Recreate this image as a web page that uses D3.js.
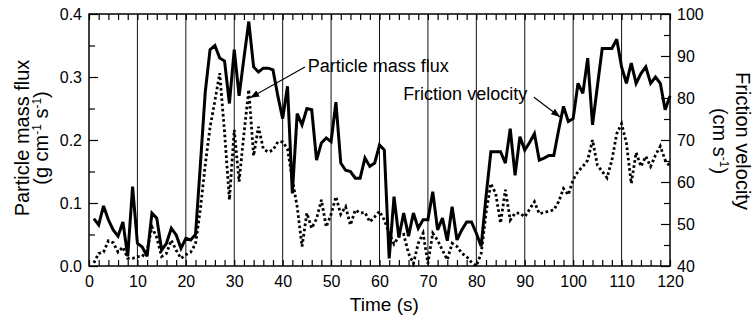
<!DOCTYPE html>
<html>
<head>
<meta charset="utf-8">
<script src="https://cdn.jsdelivr.net/npm/d3@7"></script>
<style>
  body { margin: 0; background: #fff; }
  svg { display: block; font-family: "Liberation Sans", Arial, Helvetica, sans-serif; }
</style>
</head>
<body>
<div id="chart"></div>
<script>
// sample times (s)
const timeSec = [1,2,3,4,5,6,7,8,9,10,11,12,13,14,15,16,17,18,19,20,
  21,22,23,24,25,26,27,28,29,30,31,32,33,34,35,36,37,38,39,40,
  41,42,43,44,45,46,47,48,49,50,51,52,53,54,55,56,57,58,59,60,
  61,62,63,64,65,66,67,68,69,70,71,72,73,74,75,76,77,78,79,80,
  81,82,83,84,85,86,87,88,89,90,91,92,93,94,95,96,97,98,99,100,
  101,102,103,104,105,106,107,108,109,110,111,112,113,114,115,116,117,118,119,120];

// friction velocity (cm s-1), right axis, solid line
const frictionVelocity = [51.3,49.8,54.3,51.0,48.6,47.1,50.5,42.3,58.9,45.4,
  44.5,42.3,52.6,51.4,43.8,45.4,49.0,47.4,44.2,46.6,
  46.2,47.5,64.0,81.3,91.5,92.5,89.5,88.8,78.7,91.5,
  80.5,89.5,98.2,87.4,86.2,87.1,87.1,86.7,80.5,75.1,
  82.8,57.3,76.3,73.6,77.5,77.2,65.2,69.3,70.5,69.6,
  79.0,64.5,62.8,62.5,60.9,60.9,65.7,63.7,64.5,68.8,
  67.6,41.8,56.5,46.8,52.6,47.1,52.6,49.0,51.0,51.0,
  57.7,48.6,51.4,46.0,54.1,46.2,48.6,50.5,50.5,47.8,
  44.7,56.5,67.2,67.2,67.2,64.5,72.7,61.6,70.8,67.6,
  69.4,71.5,65.2,65.7,66.3,66.3,72.4,78.0,74.4,75.1,
  83.5,81.1,89.5,73.6,82.8,91.8,91.8,91.8,94.0,87.4,
  83.5,88.3,83.5,85.8,87.4,83.5,85.0,83.5,77.2,80.5];

// particle mass flux (g cm-1 s-1), left axis, dotted line
const massFlux = [0.005,0.020,0.022,0.040,0.037,0.022,0.030,0.012,0.012,0.015,
  0.015,0.025,0.062,0.045,0.015,0.020,0.041,0.025,0.012,0.018,
  0.022,0.035,0.090,0.160,0.220,0.262,0.306,0.212,0.105,0.216,
  0.134,0.210,0.280,0.175,0.221,0.186,0.181,0.184,0.197,0.197,
  0.186,0.137,0.094,0.031,0.084,0.060,0.075,0.105,0.062,0.082,
  0.110,0.082,0.094,0.065,0.089,0.084,0.085,0.070,0.078,0.087,
  0.073,0.052,0.035,0.047,0.050,0.020,0.004,0.036,0.052,0.004,
  0.052,0.041,0.025,0.010,0.036,0.031,0.020,0.015,0.006,0.000,
  0.020,0.084,0.131,0.115,0.068,0.121,0.073,0.084,0.084,0.078,
  0.090,0.102,0.083,0.085,0.087,0.089,0.102,0.123,0.113,0.137,
  0.150,0.158,0.168,0.200,0.160,0.150,0.140,0.168,0.210,0.226,
  0.195,0.131,0.180,0.158,0.174,0.158,0.176,0.190,0.168,0.158];

const timeLabels = [0,10,20,30,40,50,60,70,80,90,100,110,120];
const gridTimes = [10,20,30,40,50,60,70,80,90,100,110];
const fluxLabels = [0,0.1,0.2,0.3,0.4];
const fluxMinor = [0.05,0.15,0.25,0.35];
const velocityLabels = [40,50,60,70,80,90,100];
const velocityMinor = [45,55,65,75,85,95];

// callouts, placed in data units
const fluxNote = {text: 'Particle mass flux', t: 45.2, f: 0.308, from: [44.6, 0.316], to: [33.3, 0.267]};
const velocityNote = {text: 'Friction velocity', t: 90.5, v: 79.5, from: [91.9, 80.2], to: [97.3, 75.5]};

const width = 754, height = 322;
const margin = {top: 14, right: 84, bottom: 56, left: 89};
const w = width - margin.left - margin.right;
const h = height - margin.top - margin.bottom;

const svg = d3.select('#chart').append('svg')
  .attr('width', width)
  .attr('height', height);

svg.append('defs').append('marker')
  .attr('id', 'arrow')
  .attr('markerUnits', 'userSpaceOnUse')
  .attr('markerWidth', 10).attr('markerHeight', 8)
  .attr('refX', 9).attr('refY', 3.5)
  .attr('orient', 'auto')
  .append('path')
  .attr('d', 'M0,0 L9,3.5 L0,7 Z')
  .attr('fill', '#000');

const g = svg.append('g')
  .attr('transform', 'translate(' + margin.left + ',' + margin.top + ')');

const x = d3.scaleLinear().domain([0, 120]).range([0, w]);
const yFlux = d3.scaleLinear().domain([0, 0.4]).range([h, 0]);
const yVel = d3.scaleLinear().domain([40, 100]).range([h, 0]);

// vertical lines every 10 s
g.selectAll('.grid')
  .data(gridTimes)
  .enter().append('line')
  .attr('class', 'grid')
  .attr('x1', d => x(d)).attr('x2', d => x(d))
  .attr('y1', 0).attr('y2', h)
  .attr('stroke', '#111')
  .attr('stroke-width', 1);

function styleAxis(sel, size) {
  sel.select('.domain').remove();
  sel.selectAll('line').attr('stroke', '#000').attr('stroke-width', 1.2);
  sel.selectAll('text')
    .attr('fill', '#000')
    .style('font-size', size + 'px')
    .style('font-family', '"Liberation Sans", Arial, sans-serif');
}

// bottom: minor ticks every 2 s, labels every 10 s
g.append('g')
  .attr('transform', 'translate(0,' + h + ')')
  .call(d3.axisBottom(x).tickValues(d3.range(0, 121, 2)).tickSize(-6).tickSizeOuter(0).tickFormat(''))
  .call(styleAxis, 16);
g.append('g')
  .attr('transform', 'translate(0,' + h + ')')
  .call(d3.axisBottom(x).tickValues(timeLabels).tickSize(0).tickPadding(10).tickFormat(d3.format('d')))
  .call(styleAxis, 16);

// top: ticks only
g.append('g')
  .call(d3.axisTop(x).tickValues(d3.range(0, 121, 2)).tickSize(-6).tickSizeOuter(0).tickFormat(''))
  .call(styleAxis, 16);

// left axis
g.append('g')
  .call(d3.axisLeft(yFlux).tickValues(fluxLabels).tickSize(-9).tickSizeOuter(0)
    .tickPadding(7).tickFormat(d3.format('.1f')))
  .call(styleAxis, 16);
g.append('g')
  .call(d3.axisLeft(yFlux).tickValues(fluxMinor).tickSize(-6).tickSizeOuter(0).tickFormat(''))
  .call(styleAxis, 16);

// right axis
g.append('g')
  .attr('transform', 'translate(' + w + ',0)')
  .call(d3.axisRight(yVel).tickValues(velocityLabels).tickSize(-9).tickSizeOuter(0)
    .tickPadding(7).tickFormat(d3.format('d')))
  .call(styleAxis, 16);
g.append('g')
  .attr('transform', 'translate(' + w + ',0)')
  .call(d3.axisRight(yVel).tickValues(velocityMinor).tickSize(-6).tickSizeOuter(0).tickFormat(''))
  .call(styleAxis, 16);

// frame
g.append('rect')
  .attr('width', w).attr('height', h)
  .attr('fill', 'none')
  .attr('stroke', '#000')
  .attr('stroke-width', 1.5);

const fluxLine = d3.line()
  .x((d, i) => x(timeSec[i]))
  .y(d => yFlux(d));

const velLine = d3.line()
  .x((d, i) => x(timeSec[i]))
  .y(d => yVel(d));

g.append('path')
  .datum(massFlux)
  .attr('d', fluxLine)
  .attr('fill', 'none')
  .attr('stroke', '#000')
  .attr('stroke-width', 2.8)
  .attr('stroke-dasharray', '2.6,2.6');

g.append('path')
  .datum(frictionVelocity)
  .attr('d', velLine)
  .attr('fill', 'none')
  .attr('stroke', '#000')
  .attr('stroke-width', 3)
  .attr('stroke-linejoin', 'miter')
  .attr('stroke-miterlimit', 3);

// callouts
g.append('text')
  .attr('x', x(fluxNote.t)).attr('y', yFlux(fluxNote.f))
  .style('font-size', '18px')
  .text(fluxNote.text);
g.append('line')
  .attr('x1', x(fluxNote.from[0])).attr('y1', yFlux(fluxNote.from[1]))
  .attr('x2', x(fluxNote.to[0])).attr('y2', yFlux(fluxNote.to[1]))
  .attr('stroke', '#000').attr('stroke-width', 1.2)
  .attr('marker-end', 'url(#arrow)');

g.append('text')
  .attr('x', x(velocityNote.t)).attr('y', yVel(velocityNote.v))
  .attr('text-anchor', 'end')
  .style('font-size', '18px')
  .text(velocityNote.text);
g.append('line')
  .attr('x1', x(velocityNote.from[0])).attr('y1', yVel(velocityNote.from[1]))
  .attr('x2', x(velocityNote.to[0])).attr('y2', yVel(velocityNote.to[1]))
  .attr('stroke', '#000').attr('stroke-width', 1.2)
  .attr('marker-end', 'url(#arrow)');

// axis titles
svg.append('text')
  .attr('x', margin.left + x(61)).attr('y', 311)
  .attr('text-anchor', 'middle')
  .style('font-size', '19px')
  .text('Time (s)');

function unitLine(sel, parts) {
  // parts: [text, superscript, text, superscript, text]
  parts.forEach((p, i) => {
    const sup = i % 2 === 1;
    sel.append('tspan')
      .attr('dy', sup ? -7 : (i > 0 ? 7 : 0))
      .style('font-size', sup ? '12px' : null)
      .text(p);
  });
}

const left = svg.append('g')
  .attr('transform', 'translate(29,' + (margin.top + h / 2 - 2) + ') rotate(-90)')
  .style('font-size', '20px')
  .attr('text-anchor', 'middle');
left.append('text').attr('y', 0).text('Particle mass flux');
left.append('text').attr('y', 19).call(unitLine, ['(g cm', '-1', ' s', '-1', ')']);

const right = svg.append('g')
  .attr('transform', 'translate(736,' + (margin.top + h / 2 + 1) + ') rotate(90)')
  .style('font-size', '20px')
  .attr('text-anchor', 'middle');
right.append('text').attr('y', 0).text('Friction velocity');
right.append('text').attr('y', 23).call(unitLine, ['(cm s', '-1', ')']);
</script>
</body>
</html>
